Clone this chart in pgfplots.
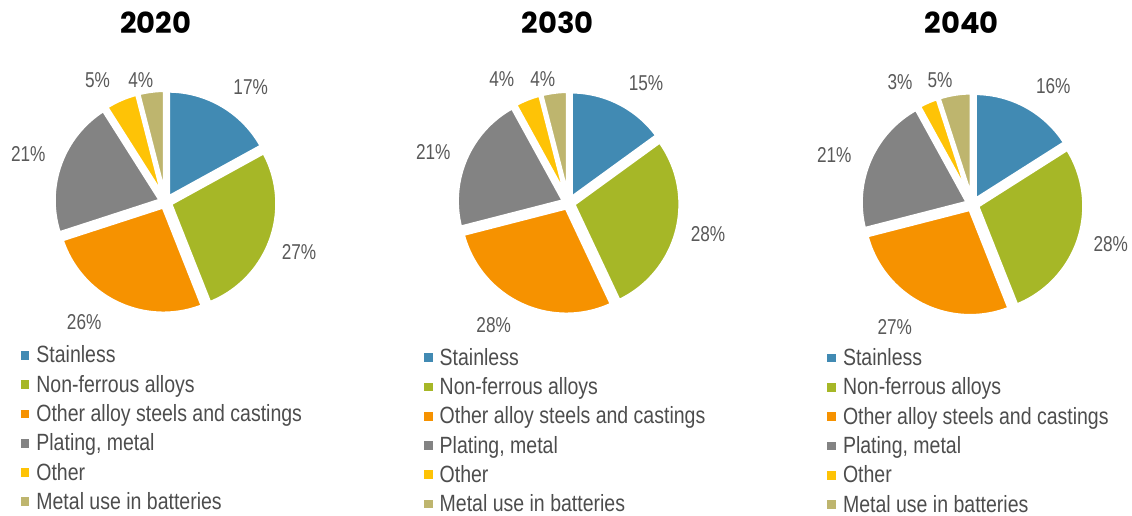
\documentclass[border=0pt]{standalone}
\usepackage{pgfplots}
\pgfplotsset{compat=1.18}
\usepackage{pgfplotstable}
\usepackage{fontspec}
\setmainfont{Liberation Sans}
\newfontfamily\narrowfont[FakeStretch=0.83]{Liberation Sans}
\newfontfamily\pctfont[FakeStretch=0.80]{Liberation Sans}
\newfontfamily\titlefont{Poppins}

\definecolor{c0}{HTML}{418AB3}
\definecolor{c1}{HTML}{A6B727}
\definecolor{c2}{HTML}{F69200}
\definecolor{c3}{HTML}{838383}
\definecolor{c4}{HTML}{FEC306}
\definecolor{c5}{HTML}{BEB56E}
\definecolor{pcttext}{HTML}{595959}
\definecolor{legtext}{HTML}{4D4D4D}

% shares in %, label positions in px (from top left)
\pgfplotstableread{
val lx ly
17 250.7 86.7
27 299.0 252.3
26 84.2 321.7
21 28.3 154.0
5 97.5 80.0
4 140.8 80.0
}\yrA
\pgfplotstableread{
val lx ly
15 646.0 83.0
28 708.0 234.0
28 493.7 325.0
21 433.3 152.0
4 501.7 79.0
4 542.8 79.0
}\yrB
\pgfplotstableread{
val lx ly
16 1053.3 85.7
28 1110.7 244.3
27 894.7 327.0
21 834.3 155.0
3 900.0 81.7
5 940.0 80.0
}\yrC

\def\rad{107}
\def\explode{5}
\tikzset{pctlabel/.style={font=\pctfont\fontsize{21.5}{24}\selectfont, text=pcttext, inner sep=0pt}}

% #1 table, #2 centre x, #3 centre y (px from top)
\newcommand\pieslices[3]{%
  \def\cum{0}%
  \pgfplotsforeachungrouped \i in {0,...,5}{%
    \pgfplotstablegetelem{\i}{val}\of{#1}\let\v\pgfplotsretval
    \pgfplotstablegetelem{\i}{lx}\of{#1}\let\lx\pgfplotsretval
    \pgfplotstablegetelem{\i}{ly}\of{#1}\let\ly\pgfplotsretval
    \pgfmathsetmacro\aa{90-3.6*\cum}%
    \pgfmathsetmacro\ab{90-3.6*(\cum+\v)}%
    \pgfmathsetmacro\am{(\aa+\ab)/2}%
    \pgfmathsetmacro\ox{#2+\explode*cos(\am)}%
    \pgfmathsetmacro\oy{515-#3+\explode*sin(\am)}%
    \pgfmathsetmacro\px{\ox+\rad*cos(\aa)}%
    \pgfmathsetmacro\py{\oy+\rad*sin(\aa)}%
    \pgfmathsetmacro\lyy{515-\ly}%
    \pgfmathsetmacro\cum{\cum+\v}%
    \edef\doslice{%
      \noexpand\fill[c\i, draw=white, line width=4pt] (axis cs:\ox,\oy) -- (axis cs:\px,\py)
        arc[start angle=\aa, end angle=\ab, radius=\rad pt] -- cycle;
      \noexpand\node[pctlabel] at (axis cs:\lx,\lyy) {\v\noexpand\%};}%
    \doslice
  }%
}

\newcommand\pielegend{%
  \addlegendimage{sq=c0}\addlegendentry{Stainless}
  \addlegendimage{sq=c1}\addlegendentry{Non-ferrous alloys}
  \addlegendimage{sq=c2}\addlegendentry{Other alloy steels and castings}
  \addlegendimage{sq=c3}\addlegendentry{Plating, metal}
  \addlegendimage{sq=c4}\addlegendentry{Other}
  \addlegendimage{sq=c5}\addlegendentry{Metal use in batteries}
}

\pgfplotsset{
  sq/.style={legend image code/.code={\fill[#1] (0pt,-3.85pt) rectangle (7.7pt,3.85pt); \path (15.3pt,0pt);}},
  pieaxis/.style={
    at={(0pt,0pt)}, anchor=south west,
    scale only axis, x=1pt, y=1pt,
    xmin=0, xmax=1132, ymin=0, ymax=515,
    hide axis, clip=false,
    legend cell align=left,
    legend style={draw=none, fill=none, anchor=north west,
      inner sep=0pt, outer sep=0pt, row sep=5.7pt, column sep=0pt,
      nodes={inner sep=0pt, outer sep=0pt, text height=19.6pt, text depth=4pt,
        font=\narrowfont\fontsize{23.5}{28}\selectfont, text=legtext}},
  },
}
\tikzset{yeartitle/.style={font=\titlefont\bfseries\fontsize{29}{33}\selectfont, text=black, inner sep=0pt}}

\begin{document}
\begin{tikzpicture}
\useasboundingbox (0,0) rectangle (1132pt,515pt);

\begin{axis}[pieaxis, legend style={at={(20.7/1132,171.8/515)}}]
  \pieslices{\yrA}{165.5}{202}
  \node[yeartitle] at (axis cs:155.5,492.5) {2020};
  \pielegend
\end{axis}

\begin{axis}[pieaxis, legend style={at={(424/1132,169.5/515)}}]
  \pieslices{\yrB}{568.5}{203}
  \node[yeartitle] at (axis cs:557.7,492.5) {2030};
  \pielegend
\end{axis}

\begin{axis}[pieaxis, legend style={at={(827.3/1132,169.0/515)}}]
  \pieslices{\yrC}{972.4}{204.5}
  \node[yeartitle] at (axis cs:961.7,492.5) {2040};
  \pielegend
\end{axis}
\end{tikzpicture}
\end{document}
